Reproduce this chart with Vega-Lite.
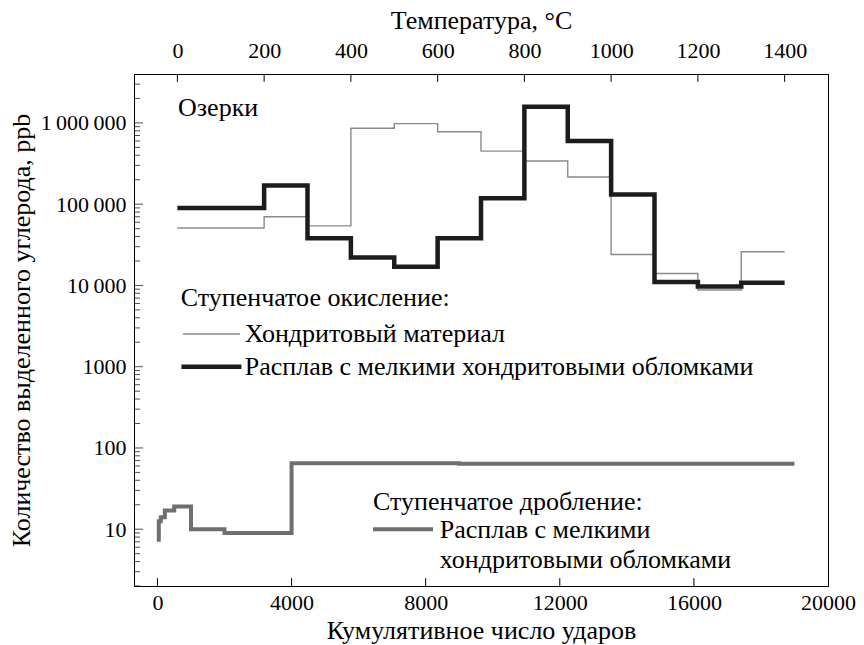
{
  "$schema": "https://vega.github.io/schema/vega-lite/v6.json",
  "width": 694,
  "height": 512,
  "autosize": {"type": "none"},
  "padding": {"left": 134, "top": 74, "right": 36, "bottom": 59},
  "background": "white",
  "config": {
    "locale": {"number": {"decimal": ".", "thousands": "\u2009", "grouping": [3], "currency": ["", ""]}},
    "view": {"stroke": "black", "strokeWidth": 1},
    "font": "Liberation Serif",
    "axis": {
      "grid": false,
      "domainColor": "black",
      "domainWidth": 1,
      "labelFont": "Liberation Serif",
      "titleFont": "Liberation Serif",
      "labelFontSize": 22,
      "titleFontSize": 26,
      "titleFontWeight": "normal",
      "labelColor": "black",
      "titleColor": "black",
      "labelOverlap": false,
      "labelFlush": false
    }
  },
  "datasets": {
    "oxidation": [
      {"sample": "chondrite", "t": 0, "c": 51000},
      {"sample": "chondrite", "t": 200, "c": 70000},
      {"sample": "chondrite", "t": 300, "c": 54000},
      {"sample": "chondrite", "t": 400, "c": 860000},
      {"sample": "chondrite", "t": 500, "c": 980000},
      {"sample": "chondrite", "t": 600, "c": 780000},
      {"sample": "chondrite", "t": 700, "c": 450000},
      {"sample": "chondrite", "t": 800, "c": 340000},
      {"sample": "chondrite", "t": 900, "c": 216000},
      {"sample": "chondrite", "t": 1000, "c": 24000},
      {"sample": "chondrite", "t": 1100, "c": 14000},
      {"sample": "chondrite", "t": 1200, "c": 8800},
      {"sample": "chondrite", "t": 1300, "c": 26000},
      {"sample": "chondrite", "t": 1400, "c": 26000},
      {"sample": "melt", "t": 0, "c": 90000},
      {"sample": "melt", "t": 200, "c": 170000},
      {"sample": "melt", "t": 300, "c": 38000},
      {"sample": "melt", "t": 400, "c": 22000},
      {"sample": "melt", "t": 500, "c": 17000},
      {"sample": "melt", "t": 600, "c": 38000},
      {"sample": "melt", "t": 700, "c": 118000},
      {"sample": "melt", "t": 800, "c": 1580000},
      {"sample": "melt", "t": 900, "c": 600000},
      {"sample": "melt", "t": 1000, "c": 132000},
      {"sample": "melt", "t": 1100, "c": 11000},
      {"sample": "melt", "t": 1200, "c": 9700},
      {"sample": "melt", "t": 1300, "c": 10800},
      {"sample": "melt", "t": 1400, "c": 10800}
    ],
    "crushing": [
      {"n": 40, "c": 7},
      {"n": 40, "c": 12.5},
      {"n": 100, "c": 14},
      {"n": 220, "c": 17},
      {"n": 500, "c": 19},
      {"n": 1000, "c": 10},
      {"n": 2000, "c": 9},
      {"n": 4000, "c": 65},
      {"n": 9000, "c": 64},
      {"n": 19000, "c": 64}
    ],
    "notes": [
      {"label": "Озерки", "n": 614, "c": 1530000},
      {"label": "Ступенчатое окисление:", "n": 695, "c": 7000},
      {"label": "Хондритовый материал", "n": 2605, "c": 2520},
      {"label": "Расплав с мелкими хондритовыми обломками", "n": 2605, "c": 1000},
      {"label": "Ступенчатое дробление:", "n": 6430, "c": 21.5},
      {"label": "Расплав с мелкими", "n": 8419, "c": 9.8},
      {"label": "хондритовыми обломками", "n": 8419, "c": 4.2}
    ],
    "keys": [
      {"key": "chondrite", "n1": 760, "n2": 2460, "c": 2520},
      {"key": "melt", "n1": 715, "n2": 2505, "c": 1000},
      {"key": "crush", "n1": 6430, "n2": 8220, "c": 10}
    ],
    "yTicks": [
      {"v": 2}, {"v": 3}, {"v": 4}, {"v": 5}, {"v": 6}, {"v": 7}, {"v": 8}, {"v": 9},
      {"v": 10}, {"v": 20}, {"v": 30}, {"v": 40}, {"v": 50}, {"v": 60}, {"v": 70}, {"v": 80}, {"v": 90},
      {"v": 100}, {"v": 200}, {"v": 300}, {"v": 400}, {"v": 500}, {"v": 600}, {"v": 700}, {"v": 800}, {"v": 900},
      {"v": 1000}, {"v": 2000}, {"v": 3000}, {"v": 4000}, {"v": 5000}, {"v": 6000}, {"v": 7000}, {"v": 8000}, {"v": 9000},
      {"v": 10000}, {"v": 20000}, {"v": 30000}, {"v": 40000}, {"v": 50000}, {"v": 60000}, {"v": 70000}, {"v": 80000}, {"v": 90000},
      {"v": 100000}, {"v": 200000}, {"v": 300000}, {"v": 400000}, {"v": 500000}, {"v": 600000}, {"v": 700000}, {"v": 800000}, {"v": 900000},
      {"v": 1000000}, {"v": 2000000}, {"v": 3000000}
    ],
    "tTicks": [
      {"t": 0, "c": 4000000, "c2": 3200000},
      {"t": 200, "c": 4000000, "c2": 3200000},
      {"t": 400, "c": 4000000, "c2": 3200000},
      {"t": 600, "c": 4000000, "c2": 3200000},
      {"t": 800, "c": 4000000, "c2": 3200000},
      {"t": 1000, "c": 4000000, "c2": 3200000},
      {"t": 1200, "c": 4000000, "c2": 3200000},
      {"t": 1400, "c": 4000000, "c2": 3200000}
    ],
    "nTicks": [
      {"n": 0, "c": 2, "c2": 2.5},
      {"n": 4000, "c": 2, "c2": 2.5},
      {"n": 8000, "c": 2, "c2": 2.5},
      {"n": 12000, "c": 2, "c2": 2.5},
      {"n": 16000, "c": 2, "c2": 2.5}
    ]
  },
  "layer": [
    {
      "data": {"name": "crushing"},
      "mark": {"type": "line", "interpolate": "step-after", "color": "#6e6f72", "strokeWidth": 4},
      "encoding": {
        "x": {
          "field": "n", "type": "quantitative",
          "scale": {"domain": [-700, 20000], "nice": false, "zero": false},
          "axis": {
            "orient": "bottom",
            "title": "Кумулятивное число ударов",
            "values": [0, 4000, 8000, 12000, 16000, 20000],
            "format": "d",
            "ticks": false,
            "labelPadding": 6,
            "titlePadding": 4
          }
        },
        "y": {
          "field": "c", "type": "quantitative",
          "scale": {"type": "log", "domain": [2, 4000000], "nice": false},
          "axis": {
            "orient": "left",
            "title": "Количество выделенного углерода, ppb",
            "values": [10000, 100000, 1000000],
            "format": ",d",
            "ticks": false,
            "labelPadding": 8,
            "titlePadding": 6
          }
        }
      }
    },
    {
      "data": {"name": "oxidation"},
      "transform": [{"filter": "datum.sample === 'chondrite'"}],
      "mark": {"type": "line", "interpolate": "step-after", "color": "#8a8a8a", "strokeWidth": 1.4},
      "encoding": {
        "x": {
          "field": "t", "type": "quantitative",
          "scale": {"domain": [-100, 1500], "nice": false, "zero": false},
          "axis": {
            "orient": "top",
            "title": "Температура, °C",
            "values": [0, 200, 400, 600, 800, 1000, 1200, 1400],
            "format": "d",
            "ticks": false,
            "labelPadding": 12,
            "titlePadding": 6
          }
        },
        "y": {
          "field": "c", "type": "quantitative",
          "axis": {
            "orient": "left",
            "title": null,
            "values": [10, 100, 1000],
            "format": "d",
            "ticks": false,
            "domain": false,
            "labelPadding": 8
          }
        }
      }
    },
    {
      "data": {"name": "oxidation"},
      "transform": [{"filter": "datum.sample === 'melt'"}],
      "mark": {"type": "line", "interpolate": "step-after", "color": "#1c1c1c", "strokeWidth": 4.5},
      "encoding": {
        "x": {"field": "t", "type": "quantitative", "scale": {"domain": [-100, 1500], "nice": false, "zero": false}, "axis": null},
        "y": {"field": "c", "type": "quantitative", "axis": null}
      }
    },
    {
      "data": {"name": "keys"},
      "transform": [{"filter": "datum.key === 'chondrite'"}],
      "mark": {"type": "rule", "color": "#8a8a8a", "strokeWidth": 1.4},
      "encoding": {
        "x": {"field": "n1", "type": "quantitative", "scale": {"domain": [-700, 20000], "nice": false, "zero": false}, "axis": null},
        "x2": {"field": "n2"},
        "y": {"field": "c", "type": "quantitative", "axis": null}
      }
    },
    {
      "data": {"name": "keys"},
      "transform": [{"filter": "datum.key === 'melt'"}],
      "mark": {"type": "rule", "color": "#1c1c1c", "strokeWidth": 4.5},
      "encoding": {
        "x": {"field": "n1", "type": "quantitative", "scale": {"domain": [-700, 20000], "nice": false, "zero": false}, "axis": null},
        "x2": {"field": "n2"},
        "y": {"field": "c", "type": "quantitative", "axis": null}
      }
    },
    {
      "data": {"name": "keys"},
      "transform": [{"filter": "datum.key === 'crush'"}],
      "mark": {"type": "rule", "color": "#6e6f72", "strokeWidth": 4},
      "encoding": {
        "x": {"field": "n1", "type": "quantitative", "scale": {"domain": [-700, 20000], "nice": false, "zero": false}, "axis": null},
        "x2": {"field": "n2"},
        "y": {"field": "c", "type": "quantitative", "axis": null}
      }
    },
    {
      "data": {"name": "notes"},
      "mark": {"type": "text", "align": "left", "baseline": "middle", "font": "Liberation Serif", "fontSize": 26, "color": "black"},
      "encoding": {
        "x": {"field": "n", "type": "quantitative", "scale": {"domain": [-700, 20000], "nice": false, "zero": false}, "axis": null},
        "y": {"field": "c", "type": "quantitative", "axis": null},
        "text": {"field": "label"}
      }
    },
    {
      "data": {"name": "yTicks"},
      "mark": {"type": "tick", "orient": "horizontal", "color": "black", "thickness": 1, "clip": true},
      "encoding": {
        "x": {"datum": -700, "type": "quantitative", "scale": {"domain": [-700, 20000], "nice": false, "zero": false}, "axis": null},
        "y": {"field": "v", "type": "quantitative", "axis": null},
        "size": {"condition": {"test": "indexof([10, 100, 1000, 10000, 100000, 1000000], datum.v) >= 0", "value": 18}, "value": 12}
      }
    },
    {
      "data": {"name": "tTicks"},
      "mark": {"type": "rule", "color": "black", "strokeWidth": 1},
      "encoding": {
        "x": {"field": "t", "type": "quantitative", "scale": {"domain": [-100, 1500], "nice": false, "zero": false}, "axis": null},
        "y": {"field": "c", "type": "quantitative", "axis": null},
        "y2": {"field": "c2"}
      }
    },
    {
      "data": {"name": "nTicks"},
      "mark": {"type": "rule", "color": "black", "strokeWidth": 1},
      "encoding": {
        "x": {"field": "n", "type": "quantitative", "scale": {"domain": [-700, 20000], "nice": false, "zero": false}, "axis": null},
        "y": {"field": "c", "type": "quantitative", "axis": null},
        "y2": {"field": "c2"}
      }
    }
  ],
  "resolve": {"scale": {"x": "independent"}, "axis": {"y": "independent"}}
}
